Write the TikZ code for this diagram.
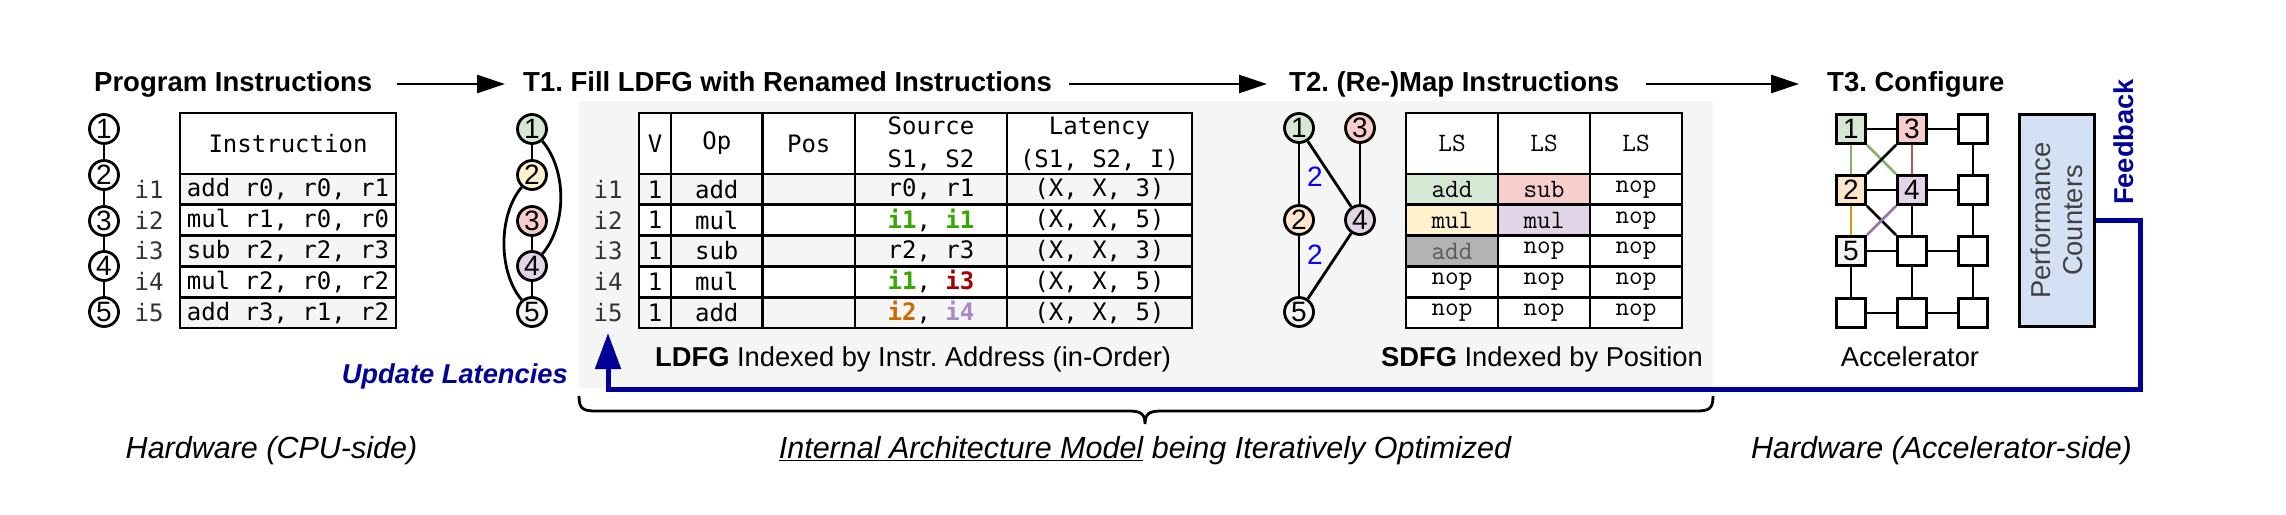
\documentclass[tikz,border=0pt]{standalone}
\usepackage{fontspec}
\setmainfont{Liberation Sans}
\newfontfamily\monoA{DejaVu Sans Mono}
\usetikzlibrary{arrows.meta}
\definecolor{fgreen}{HTML}{D5E8D4}
\definecolor{sgreen}{HTML}{82B366}
\definecolor{fred}{HTML}{F8CECC}
\definecolor{sred}{HTML}{B85450}
\definecolor{fyellow}{HTML}{FFF2CC}
\definecolor{forange}{HTML}{FFE6CC}
\definecolor{sorange}{HTML}{D79B00}
\definecolor{fpurple}{HTML}{E1D5E7}
\definecolor{spurple}{HTML}{9673A6}
\definecolor{fgray}{HTML}{F5F5F5}
\definecolor{dgray}{HTML}{B3B3B3}
\definecolor{tgray}{HTML}{5A5A5A}
\definecolor{pcblue}{HTML}{D4E1F5}
\definecolor{pctext}{HTML}{404040}
\definecolor{navy}{HTML}{000099}
\definecolor{lblue}{HTML}{0000FF}
\definecolor{srcG}{HTML}{36A800}
\definecolor{srcR}{HTML}{A30000}
\definecolor{srcO}{HTML}{CC6A00}
\definecolor{srcP}{HTML}{A88BC4}
\newcommand{\fHead}{\fontsize{27.5pt}{30pt}\selectfont\bfseries}
\newcommand{\fCap}{\fontsize{27.3pt}{32pt}\selectfont}
\newcommand{\fBot}{\fontsize{30.5pt}{34pt}\selectfont\itshape}
\newcommand{\fMono}{\monoA\fontsize{24pt}{33pt}\selectfont}
\newcommand{\fCour}{\ttfamily\fontsize{26.5pt}{33pt}\selectfont}
\newcommand{\fNum}{\fontsize{28pt}{30pt}\selectfont}
\newcommand{\sG}[1]{\textcolor{srcG}{\bfseries #1}}
\newcommand{\sR}[1]{\textcolor{srcR}{\bfseries #1}}
\newcommand{\sO}[1]{\textcolor{srcO}{\bfseries #1}}
\newcommand{\sP}[1]{\textcolor{srcP}{\bfseries #1}}
\frenchspacing
\begin{document}
\begin{tikzpicture}[x=1pt,y=-1pt,
  head/.style={font=\fHead, anchor=west, inner sep=0pt, text height=20pt, text depth=6pt},
  harr/.style={line width=2.8pt, -{Triangle[length=28pt,width=18pt]}},
  cell/.style={draw, line width=2.8pt, inner sep=0pt, outer sep=0pt, font=\fMono, align=center},
  ccell/.style={draw, line width=2.8pt, inner sep=0pt, outer sep=0pt, font=\fCour, align=center},
  hdr/.style={minimum height=61pt},
  rw/.style={minimum height=30.8pt},
  cw/.style={minimum width=#1},
  shade/.style={fill=fgray},
  lab/.style={font=\fMono, inner sep=0pt, text=black!80},
  circ/.style={circle, draw, line width=2.8pt, minimum size=29pt, inner sep=0pt, font=\fNum},
  edge/.style={line width=2.8pt},
  sq/.style={draw, line width=2.8pt, minimum size=29pt, inner sep=0pt, fill=white, font=\fNum},
  gedge/.style={line width=2.6pt},
  capt/.style={font=\fCap, inner sep=0pt},
  bot/.style={font=\fBot, inner sep=0pt},
  fb/.style={line width=5pt, draw=navy},
  bluelbl/.style={font=\fNum, text=lblue, inner sep=0pt}
]
\useasboundingbox (0,0) rectangle (2286,514);

% gray panel
\fill[fgray] (579,101) rectangle (1713,388);

% headings
\node[head] (h0) at (94,84) {Program Instructions};
\node[head] (h1) at (523,84) {T1. Fill LDFG with Renamed Instructions};
\node[head] (h2) at (1289,84) {T2. (Re-)Map Instructions};
\node[head] (h3) at (1827,84) {T3. Configure};
\draw[harr] ([xshift=24pt]h0.east) -- ([xshift=-18pt]h1.west);
\draw[harr] ([xshift=17pt]h1.east) -- ([xshift=-22pt]h2.west);
\draw[harr] ([xshift=27pt]h2.east) -- ([xshift=-28pt]h3.west);

% ---------- Program graph ----------
\node[circ, fill=white] (p1) at (104,129) {1};
\node[circ, fill=white] (p2) at (104,175) {2};
\node[circ, fill=white] (p3) at (104,221) {3};
\node[circ, fill=white] (p4) at (104,266) {4};
\node[circ, fill=white] (p5) at (104,312) {5};
\draw[edge] (p1) -- (p2);
\draw[edge] (p2) -- (p3);
\draw[edge] (p3) -- (p4);
\draw[edge] (p4) -- (p5);

% row labels (program)
\node[lab] (pl1) at (149,189.4) {i1};
\node[lab] (pl2) at (149,220.2) {i2};
\node[lab] (pl3) at (149,251.0) {i3};
\node[lab] (pl4) at (149,281.8) {i4};
\node[lab] (pl5) at (149,312.6) {i5};

% program table
\node[cell, hdr, cw=216pt, fill=white] (pt0) at (288,143.5) {Instruction};
\node[cell, rw, cw=216pt, shade] (pt1) at (288,189.4) {add r0, r0, r1};
\node[cell, rw, cw=216pt, fill=white] (pt2) at (288,220.2) {mul r1, r0, r0};
\node[cell, rw, cw=216pt, shade] (pt3) at (288,251.0) {sub r2, r2, r3};
\node[cell, rw, cw=216pt, fill=white] (pt4) at (288,281.8) {mul r2, r0, r2};
\node[cell, rw, cw=216pt, shade] (pt5) at (288,312.6) {add r3, r1, r2};

% ---------- LDFG graph ----------
\node[circ, fill=fgreen] (l1) at (532,129) {1};
\node[circ, fill=fyellow] (l2) at (532,175) {2};
\node[circ, fill=fred] (l3) at (532,221) {3};
\node[circ, fill=fpurple] (l4) at (532,266) {4};
\node[circ, fill=fgray] (l5) at (532,312) {5};
\draw[edge] (l1) -- (l2);
\draw[edge] (l3) -- (l4);
\draw[edge] (l4) -- (l5);
\draw[edge] (l1) .. controls (567,170) and (567,225) .. (l4);
\draw[edge] (l2) .. controls (498,215) and (498,272) .. (l5);

\node[lab] (ll1) at (608,189.4) {i1};
\node[lab] (ll2) at (608,220.2) {i2};
\node[lab] (ll3) at (608,251.0) {i3};
\node[lab] (ll4) at (608,281.8) {i4};
\node[lab] (ll5) at (608,312.6) {i5};

% LDFG table header
\node[cell, hdr, cw=32pt, fill=white] (ldV) at (655,143.5) {V};
\node[cell, hdr, cw=91.5pt, fill=white] (ldO) at (716.75,143.5) {Op};
\node[cell, hdr, cw=92.5pt, fill=white] (ldP) at (808.75,143.5) {Pos};
\node[cell, hdr, cw=152pt, fill=white] (ldS) at (931,143.5) {Source\\S1, S2};
\node[cell, hdr, cw=185pt, fill=white] (ldL) at (1099.5,143.5) {Latency\\(S1, S2, I)};
% row 1
\node[cell, rw, cw=32pt, shade] (ld1V) at (655,189.4) {1};
\node[cell, rw, cw=91.5pt, shade] (ld1O) at (716.75,189.4) {add};
\node[cell, rw, cw=92.5pt, shade] (ld1P) at (808.75,189.4) {};
\node[cell, rw, cw=152pt, shade] (ld1S) at (931,189.4) {r0, r1};
\node[cell, rw, cw=185pt, shade] (ld1L) at (1099.5,189.4) {(X, X, 3)};
% row 2
\node[cell, rw, cw=32pt, fill=white] (ld2V) at (655,220.2) {1};
\node[cell, rw, cw=91.5pt, fill=white] (ld2O) at (716.75,220.2) {mul};
\node[cell, rw, cw=92.5pt, fill=white] (ld2P) at (808.75,220.2) {};
\node[cell, rw, cw=152pt, fill=white] (ld2S) at (931,220.2) {\sG{i1}, \sG{i1}};
\node[cell, rw, cw=185pt, fill=white] (ld2L) at (1099.5,220.2) {(X, X, 5)};
% row 3
\node[cell, rw, cw=32pt, shade] (ld3V) at (655,251.0) {1};
\node[cell, rw, cw=91.5pt, shade] (ld3O) at (716.75,251.0) {sub};
\node[cell, rw, cw=92.5pt, shade] (ld3P) at (808.75,251.0) {};
\node[cell, rw, cw=152pt, shade] (ld3S) at (931,251.0) {r2, r3};
\node[cell, rw, cw=185pt, shade] (ld3L) at (1099.5,251.0) {(X, X, 3)};
% row 4
\node[cell, rw, cw=32pt, fill=white] (ld4V) at (655,281.8) {1};
\node[cell, rw, cw=91.5pt, fill=white] (ld4O) at (716.75,281.8) {mul};
\node[cell, rw, cw=92.5pt, fill=white] (ld4P) at (808.75,281.8) {};
\node[cell, rw, cw=152pt, fill=white] (ld4S) at (931,281.8) {\sG{i1}, \sR{i3}};
\node[cell, rw, cw=185pt, fill=white] (ld4L) at (1099.5,281.8) {(X, X, 5)};
% row 5
\node[cell, rw, cw=32pt, shade] (ld5V) at (655,312.6) {1};
\node[cell, rw, cw=91.5pt, shade] (ld5O) at (716.75,312.6) {add};
\node[cell, rw, cw=92.5pt, shade] (ld5P) at (808.75,312.6) {};
\node[cell, rw, cw=152pt, shade] (ld5S) at (931,312.6) {\sO{i2}, \sP{i4}};
\node[cell, rw, cw=185pt, shade] (ld5L) at (1099.5,312.6) {(X, X, 5)};

\node[capt, anchor=base west] (ldcap) at (655,366) {\textbf{LDFG} Indexed by Instr. Address (in-Order)};

% ---------- SDFG graph ----------
\node[circ, fill=fgreen] (s1) at (1299,128) {1};
\node[circ, fill=fred] (s3) at (1360,128) {3};
\node[circ, fill=forange] (s2) at (1299,220) {2};
\node[circ, fill=fpurple] (s4) at (1360,220) {4};
\node[circ, fill=fgray] (s5) at (1299,312) {5};
\draw[edge] (s1) -- node[bluelbl, xshift=16pt, yshift=-3pt] (w12) {2} (s2);
\draw[edge] (s1) -- (s4);
\draw[edge] (s3) -- (s4);
\draw[edge] (s2) -- node[bluelbl, xshift=16pt, yshift=11pt] (w25) {2} (s5);
\draw[edge] (s4) -- (s5);

% SDFG table
\node[ccell, hdr, cw=92pt, fill=white] (sdA) at (1452,143.5) {LS};
\node[ccell, hdr, cw=92pt, fill=white] (sdB) at (1544,143.5) {LS};
\node[ccell, hdr, cw=92pt, fill=white] (sdC) at (1636,143.5) {LS};
\node[ccell, rw, cw=92pt, fill=fgreen] (sd1A) at (1452,189.4) {add};
\node[ccell, rw, cw=92pt, fill=fred] (sd1B) at (1544,189.4) {sub};
\node[ccell, rw, cw=92pt, fill=white] (sd1C) at (1636,189.4) {nop};
\node[ccell, rw, cw=92pt, fill=fyellow] (sd2A) at (1452,220.2) {mul};
\node[ccell, rw, cw=92pt, fill=fpurple] (sd2B) at (1544,220.2) {mul};
\node[ccell, rw, cw=92pt, fill=white] (sd2C) at (1636,220.2) {nop};
\node[ccell, rw, cw=92pt, fill=dgray, text=tgray] (sd3A) at (1452,251.0) {add};
\node[ccell, rw, cw=92pt, fill=white] (sd3B) at (1544,251.0) {nop};
\node[ccell, rw, cw=92pt, fill=white] (sd3C) at (1636,251.0) {nop};
\node[ccell, rw, cw=92pt, fill=white] (sd4A) at (1452,281.8) {nop};
\node[ccell, rw, cw=92pt, fill=white] (sd4B) at (1544,281.8) {nop};
\node[ccell, rw, cw=92pt, fill=white] (sd4C) at (1636,281.8) {nop};
\node[ccell, rw, cw=92pt, fill=white] (sd5A) at (1452,312.6) {nop};
\node[ccell, rw, cw=92pt, fill=white] (sd5B) at (1544,312.6) {nop};
\node[ccell, rw, cw=92pt, fill=white] (sd5C) at (1636,312.6) {nop};

\node[capt, anchor=base west] (sdcap) at (1381,366) {\textbf{SDFG} Indexed by Position};

% ---------- Accelerator ----------
\node[sq, fill=fgreen] (g11) at (1851,129) {1};
\node[sq, fill=fred] (g12) at (1912,129) {3};
\node[sq] (g13) at (1973,129) {};
\node[sq, fill=forange] (g21) at (1851,190) {2};
\node[sq, fill=fpurple] (g22) at (1912,190) {4};
\node[sq] (g23) at (1973,190) {};
\node[sq, fill=fgray] (g31) at (1851,251) {5};
\node[sq] (g32) at (1912,251) {};
\node[sq] (g33) at (1973,251) {};
\node[sq] (g41) at (1851,313) {};
\node[sq] (g42) at (1912,313) {};
\node[sq] (g43) at (1973,313) {};
% horizontal links
\draw[gedge] (g11) -- (g12);
\draw[gedge] (g12) -- (g13);
\draw[gedge] (g21) -- (g22);
\draw[gedge] (g22) -- (g23);
\draw[gedge] (g31) -- (g32);
\draw[gedge] (g32) -- (g33);
\draw[gedge] (g41) -- (g42);
\draw[gedge] (g42) -- (g43);
% vertical links
\draw[gedge, draw=sgreen] (g11) -- (g21);
\draw[gedge, draw=sorange] (g21) -- (g31);
\draw[gedge] (g31) -- (g41);
\draw[gedge, draw=sred] (g12) -- (g22);
\draw[gedge] (g22) -- (g32);
\draw[gedge] (g32) -- (g42);
\draw[gedge] (g13) -- (g23);
\draw[gedge] (g23) -- (g33);
\draw[gedge] (g33) -- (g43);
% diagonals
\draw[gedge, draw=sgreen] (g11.south east) -- (g22.north west);
\draw[gedge] (g12.south west) -- (g21.north east);
\draw[gedge] (g21.south east) -- (g32.north west);
\draw[gedge, draw=spurple] (g22.south west) -- (g31.north east);

\node[capt, anchor=base] (acccap) at (1910,366) {Accelerator};

% Performance counters
\node[draw, line width=2.8pt, fill=pcblue, minimum width=75pt, minimum height=212pt, inner sep=0pt] (pc) at (2057,220.5) {};
\node[rotate=90, font=\fCap, text=pctext, align=center, inner sep=0pt] (pct) at (pc.center) {Performance\\Counters};
\node[rotate=90, font=\fCap\bfseries, text=navy, inner sep=0pt] (fbt) at (2124,142) {Feedback};

% feedback path
\coordinate (fbc) at (2140,389);
\coordinate (ult) at (608,333);
\draw[fb, -{Triangle[length=36pt,width=25pt]}] (pc.east) -| (fbc) -| (ult);
\node[font=\fCap\bfseries\itshape, text=navy, anchor=base east, inner sep=0pt] (ultxt) at (568,383) {Update Latencies};

% brace
\draw[line width=2.8pt] (579,396) .. controls (579,409) and (583,411) .. (596,411) -- (1128,411)
  .. controls (1140,411) and (1145,413) .. (1145,424)
  .. controls (1145,413) and (1150,411) .. (1162,411) -- (1696,411)
  .. controls (1709,411) and (1713,409) .. (1713,396);

% bottom labels
\node[bot, anchor=base] (hwcpu) at (271.5,458) {Hardware (CPU-side)};
\node[bot, anchor=base] (iam) at (1145,458) {\underline{Internal Architecture Model} being Iteratively Optimized};
\node[bot, anchor=base] (hwacc) at (1941.5,458) {Hardware (Accelerator-side)};
\end{tikzpicture}
\end{document}
